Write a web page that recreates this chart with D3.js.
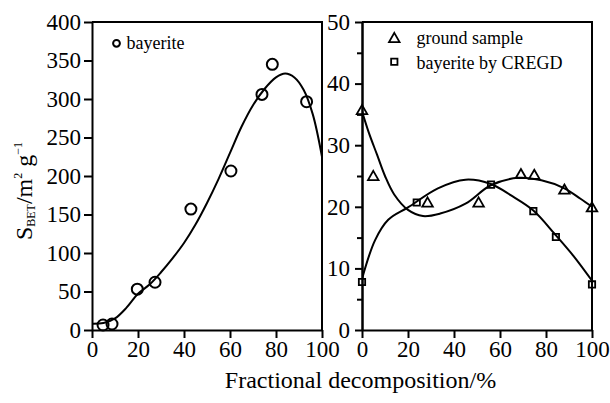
<!DOCTYPE html>
<html>
<head>
<meta charset="utf-8">
<script src="https://cdn.jsdelivr.net/npm/d3@7"></script>
<style>
  html, body { margin: 0; padding: 0; background: #fff; }
  svg { display: block; }
  svg text { font-family: 'Liberation Serif', 'Times New Roman', serif !important; fill: #000; }
</style>
</head>
<body>
<svg id="chart" width="610" height="403"></svg>
<script>
// ---- Left panel: bayerite (S_BET, m2/g) ----
const bayeriteX = [4.8, 8.7, 19.7, 27.4, 43, 60.4, 73.9, 78.4, 93.3];
const bayeriteY = [6.5, 7.8, 53, 62, 157, 206.5, 306, 345, 296.5];
// fitted trend line through the bayerite points
const bayeriteFitX = [0, 5, 10, 15, 20, 25, 30, 35, 40, 45, 50, 55, 60, 65, 70, 75, 80, 84, 88, 92, 96, 100];
const bayeriteFitY = [8, 9, 15, 29, 47, 59, 75, 93, 113, 137, 165, 196, 230, 264, 292, 313, 328, 333, 328, 312, 280, 225];

// ---- Right panel ----
const groundX = [0, 4.9, 28.5, 50.7, 69.1, 74.9, 88, 100];
const groundY = [35.7, 25, 20.7, 20.7, 25.3, 25.2, 22.8, 19.9];
const groundFitX = [0, 3, 6.5, 10, 14, 20, 26.5, 34, 45, 56, 68, 78, 88, 95, 100];
const groundFitY = [35.5, 32, 28.5, 25, 22, 19.5, 18.5, 18.9, 20.5, 23.5, 24.7, 24.3, 23, 21.3, 20];

const cregdX = [0, 23.8, 56.1, 74.5, 84.3, 100];
const cregdY = [7.8, 20.7, 23.6, 19.3, 15.1, 7.4];
const cregdFitX = [0, 5.7, 11.4, 20, 33, 45, 56, 65, 74.5, 84, 92, 100];
const cregdFitY = [8.3, 14.6, 17.9, 19.9, 23, 24.4, 23.7, 21.8, 19.4, 15.5, 12, 8];

const xTicks = [0, 20, 40, 60, 80, 100];
const leftYTicks = [0, 50, 100, 150, 200, 250, 300, 350, 400];
const rightYTicks = [0, 10, 20, 30, 40, 50];
const rightYMinor = [5, 15, 25, 35, 45];

const xTitle = "Fractional decomposition/%";

const FONT = "'Liberation Serif', 'Times New Roman', serif";
const svg = d3.select("#chart").attr("font-family", FONT);
const plotTop = 22, plotBottom = 330;

const xL = d3.scaleLinear().domain([0, 100]).range([92, 322]);
const yL = d3.scaleLinear().domain([0, 400]).range([plotBottom, plotTop]);
const xR = d3.scaleLinear().domain([0, 100]).range([362, 592]);
const yR = d3.scaleLinear().domain([0, 50]).range([plotBottom, plotTop]);

const FS = 23;

function styleAxis(g) {
  g.attr("font-family", FONT).attr("font-size", FS);
  g.selectAll("path.domain").attr("stroke", "#000").attr("stroke-width", 2);
  g.selectAll(".tick line").attr("stroke", "#000").attr("stroke-width", 2);
  g.selectAll(".tick text").attr("fill", "#000");
}

// clip paths for each panel
const defs = svg.append("defs");
defs.append("clipPath").attr("id", "clipL").append("rect")
  .attr("x", xL(0)).attr("y", plotTop).attr("width", xL(100) - xL(0)).attr("height", plotBottom - plotTop);
defs.append("clipPath").attr("id", "clipR").append("rect")
  .attr("x", xR(0)).attr("y", plotTop).attr("width", xR(100) - xR(0)).attr("height", plotBottom - plotTop);

// ---------- Left panel ----------
const gL = svg.append("g");
gL.append("g").attr("transform", `translate(0,${plotBottom})`)
  .call(d3.axisBottom(xL).tickValues(xTicks).tickSize(8).tickSizeOuter(0).tickPadding(3))
  .call(styleAxis);
gL.append("g").attr("transform", `translate(${xL(0)},0)`)
  .call(d3.axisLeft(yL).tickValues(leftYTicks).tickSize(8).tickSizeOuter(0).tickPadding(3))
  .call(styleAxis);
// frame top/right
gL.append("path")
  .attr("d", `M${xL(0)},${plotTop}H${xL(100)}V${plotBottom}`)
  .attr("fill", "none").attr("stroke", "#000").attr("stroke-width", 2);

const lineL = d3.line().x(d => xL(d[0])).y(d => yL(d[1])).curve(d3.curveCatmullRom.alpha(0.5));
gL.append("path")
  .datum(d3.zip(bayeriteFitX, bayeriteFitY))
  .attr("clip-path", "url(#clipL)")
  .attr("d", lineL)
  .attr("fill", "none").attr("stroke", "#000").attr("stroke-width", 2);

gL.selectAll("circle.pt").data(d3.zip(bayeriteX, bayeriteY)).join("circle")
  .attr("class", "pt")
  .attr("cx", d => xL(d[0])).attr("cy", d => yL(d[1])).attr("r", 5.5)
  .attr("fill", "none").attr("stroke", "#000").attr("stroke-width", 2);

// legend
gL.append("circle").attr("cx", 116.5).attr("cy", 43.3).attr("r", 3.4)
  .attr("fill", "none").attr("stroke", "#000").attr("stroke-width", 2);
gL.append("text").attr("x", 126.5).attr("y", 48.5).attr("font-size", 18).text("bayerite");

// ---------- Right panel ----------
const gR = svg.append("g");
gR.append("g").attr("transform", `translate(0,${plotBottom})`)
  .call(d3.axisBottom(xR).tickValues(xTicks).tickSize(8).tickSizeOuter(0).tickPadding(3))
  .call(styleAxis);
gR.append("g").attr("transform", `translate(${xR(0)},0)`)
  .call(d3.axisLeft(yR).tickValues(rightYTicks).tickSize(7).tickSizeOuter(0).tickPadding(5))
  .call(styleAxis);
gR.append("g").attr("transform", `translate(${xR(0)},0)`)
  .call(d3.axisLeft(yR).tickValues(rightYMinor).tickSize(5).tickSizeOuter(0).tickFormat(""))
  .call(styleAxis);
gR.append("path")
  .attr("d", `M${xR(0)},${plotTop}H${xR(100)}V${plotBottom}`)
  .attr("fill", "none").attr("stroke", "#000").attr("stroke-width", 2);

const lineR = d3.line().x(d => xR(d[0])).y(d => yR(d[1])).curve(d3.curveCatmullRom.alpha(0.5));
gR.append("path")
  .datum(d3.zip(groundFitX, groundFitY))
  .attr("clip-path", "url(#clipR)")
  .attr("d", lineR)
  .attr("fill", "none").attr("stroke", "#000").attr("stroke-width", 2);
gR.append("path")
  .datum(d3.zip(cregdFitX, cregdFitY))
  .attr("clip-path", "url(#clipR)")
  .attr("d", lineR)
  .attr("fill", "none").attr("stroke", "#000").attr("stroke-width", 2);

const tri = d3.symbol().type(d3.symbolTriangle).size(48);
const sq = d3.symbol().type(d3.symbolSquare).size(40);

gR.selectAll("path.tri").data(d3.zip(groundX, groundY)).join("path")
  .attr("class", "tri")
  .attr("transform", d => `translate(${xR(d[0])},${yR(d[1]) + 1})`)
  .attr("d", tri)
  .attr("fill", "none").attr("stroke", "#000").attr("stroke-width", 1.8);
gR.selectAll("path.sq").data(d3.zip(cregdX, cregdY)).join("path")
  .attr("class", "sq")
  .attr("transform", d => `translate(${xR(d[0])},${yR(d[1])})`)
  .attr("d", sq)
  .attr("fill", "none").attr("stroke", "#000").attr("stroke-width", 1.8);

// legend
gR.append("path").attr("transform", "translate(394.3,39)").attr("d", tri)
  .attr("fill", "none").attr("stroke", "#000").attr("stroke-width", 1.8);
gR.append("text").attr("x", 416.5).attr("y", 44).attr("font-size", 18).text("ground sample");
gR.append("path").attr("transform", "translate(394.3,61.7)").attr("d", sq)
  .attr("fill", "none").attr("stroke", "#000").attr("stroke-width", 1.8);
gR.append("text").attr("x", 416.5).attr("y", 68.5).attr("font-size", 18).text("bayerite by CREGD");

// ---------- Axis titles ----------
svg.append("text")
  .attr("x", 360.5).attr("y", 388)
  .attr("text-anchor", "middle")
  .attr("font-size", 24)
  .text(xTitle);

const yt = svg.append("text")
  .attr("transform", "translate(32,191) rotate(-90)")
  .attr("text-anchor", "middle")
  .attr("font-size", 24);
yt.append("tspan").text("S");
yt.append("tspan").attr("font-size", 12).attr("dy", 3).text("BET");
yt.append("tspan").attr("dy", -3).text("/m");
yt.append("tspan").attr("font-size", 12).attr("dy", -10).text("2");
yt.append("tspan").attr("dy", 10).text(" g");
yt.append("tspan").attr("font-size", 12).attr("dy", -10).text("\u22121");
</script>
</body>
</html>
